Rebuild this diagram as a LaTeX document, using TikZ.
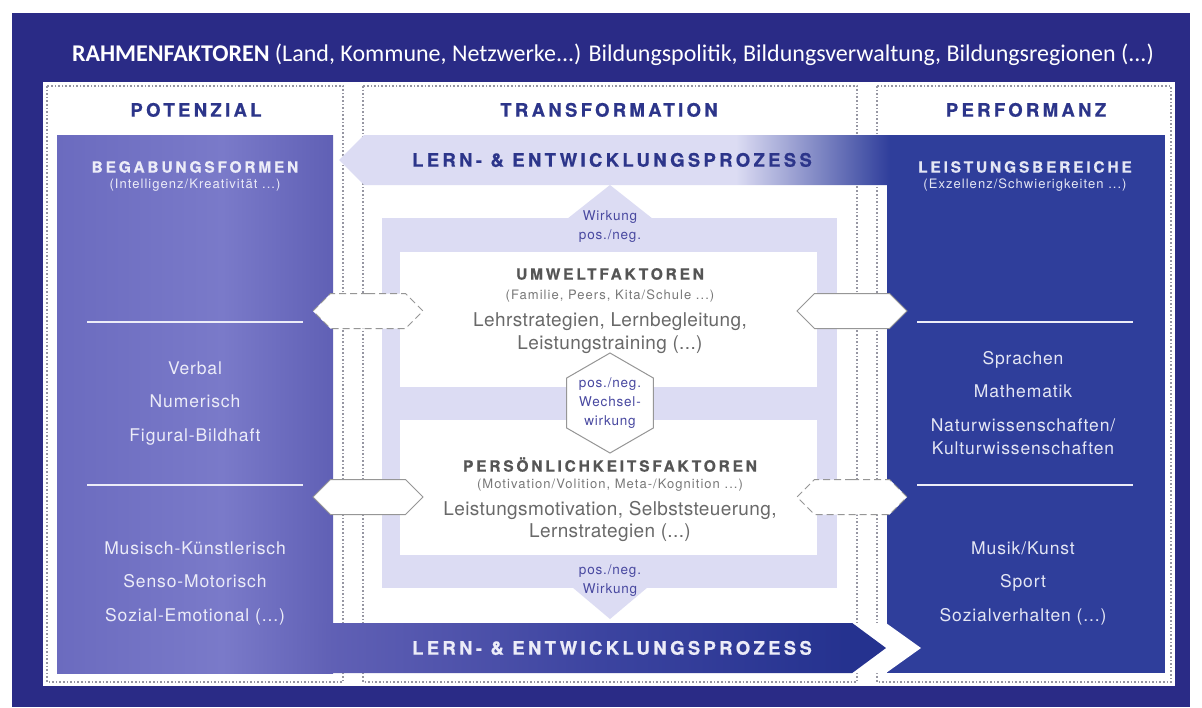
\documentclass[tikz,border=0pt]{standalone}
\usepackage{fontspec}
\setmainfont{TeX Gyre Heros}
\newfontfamily\rahmenfont{Carlito}
\usepackage{tikz}
\usetikzlibrary{arrows,positioning,shapes.geometric,shapes.symbols}

% colours
\definecolor{navy}{RGB}{42,43,134}
\definecolor{perfblue}{RGB}{47,62,155}
\definecolor{potleft}{RGB}{107,107,191}
\definecolor{potlight}{RGB}{122,122,201}
\definecolor{potright}{RGB}{96,96,181}
\definecolor{prozmid}{RGB}{60,68,160}
\definecolor{prozend}{RGB}{37,50,143}
\definecolor{lav}{RGB}{220,220,243}
\definecolor{dotgrey}{RGB}{150,150,162}
\definecolor{congrey}{RGB}{150,150,150}
\definecolor{headblue}{RGB}{44,53,138}
\definecolor{wirkblue}{RGB}{72,72,160}
\definecolor{boxgrey}{RGB}{85,85,85}
\definecolor{subgrey}{RGB}{120,120,120}
\definecolor{textgrey}{RGB}{105,105,105}
\definecolor{potext}{RGB}{236,236,248}
\definecolor{perftext}{RGB}{228,230,244}

%shadings for the boxes and the process arrows
\pgfdeclarehorizontalshading{potshade}{100bp}{color(0bp)=(potleft); color(25bp)=(potleft); color(55bp)=(potlight); color(75bp)=(potright); color(100bp)=(potright)}
\pgfdeclarehorizontalshading{prozessback}{100bp}{color(0bp)=(lav); color(61bp)=(lav); color(75bp)=(perfblue); color(100bp)=(perfblue)}
\pgfdeclarehorizontalshading{prozessforward}{100bp}{color(0bp)=(potleft); color(25bp)=(potleft); color(35bp)=(potlight); color(41.6bp)=(potright); color(57.7bp)=(prozmid); color(72.6bp)=(prozend); color(100bp)=(prozend)}

\tikzset{
    %Define standard arrow tip
    >=stealth',
    %Define style for the dotted column frames
    column/.style={
           draw=dotgrey,
           dotted,
           line width=1.6pt},
    %Define styles for texts
    rahmen/.style={
           font=\rahmenfont\fontsize{24}{28}\selectfont,
           text=white},
    coltitle/.style={
           font=\fontsize{18.5}{22}\selectfont\bfseries\addfontfeature{LetterSpace=18,FakeBold=0.7},
           text=headblue,
           text height=13.3pt,
           text depth=0pt},
    prozesstext/.style={
           font=\fontsize{18.5}{22}\selectfont\bfseries\addfontfeature{LetterSpace=18,FakeBold=0.7},
           text height=13.3pt,
           text depth=0pt},
    boxtitle/.style={
           font=\fontsize{15.5}{18}\selectfont\bfseries\addfontfeature{LetterSpace=18,FakeBold=0.6},
           text height=11.2pt,
           text depth=0pt},
    boxsub/.style={
           font=\fontsize{13}{15}\selectfont\addfontfeature{LetterSpace=8},
           text height=9.4pt,
           text depth=3pt},
    item/.style={
           font=\fontsize{17.5}{33.5}\selectfont\addfontfeature{LetterSpace=5},
           align=center},
    factortext/.style={
           font=\fontsize{19}{22.5}\selectfont\addfontfeature{LetterSpace=2},
           align=center,
           text=textgrey},
    wirkung/.style={
           font=\fontsize{13.5}{19}\selectfont\addfontfeature{LetterSpace=6},
           align=center,
           text=wirkblue},
    %Define styles for boxes
    potbox/.style={
           rectangle,
           shade, shading=potshade,
           minimum width=276pt,
           minimum height=538pt},
    perfbox/.style={
           rectangle,
           fill=perfblue,
           minimum width=278pt,
           minimum height=538pt},
    factorbox/.style={
           rectangle,
           fill=white,
           minimum width=417pt,
           minimum height=135pt},
    prozess/.style={
           signal,
           minimum height=50pt},
    %Define style for connectors
    verbindung/.style={
           signal,
           signal to=west and east,
           signal pointer angle=90,
           fill=white,
           draw=congrey, line width=1pt,
           minimum width=110pt,
           minimum height=35pt},
    wechsel/.style={
           regular polygon,
           regular polygon sides=6,
           regular polygon rotate=30,
           fill=white,
           draw=congrey, line width=1pt,
           minimum size=100pt},
    divider/.style={
           draw=potext,
           line width=1.2pt}
}

\begin{document}
\begin{tikzpicture}[x=1pt,y=-1pt,every node/.append style={inner sep=0pt,outer sep=0pt}]
\useasboundingbox (0,0) rectangle (1202,707);
 %frame
\fill[white] (0,0) rectangle (1202,707);
\fill[navy] (12,13) rectangle (1190,707);
\fill[white] (43,82) rectangle (1175,686);
\node[rahmen] (rahmen) at (613,55) {\textbf{RAHMENFAKTOREN} (Land, Kommune, Netzwerke...) Bildungspolitik, Bildungsverwaltung, Bildungsregionen (...)};
 %columns
\draw[column] (47,86) rectangle (343,682);
\draw[column] (363,86) rectangle (857,682);
\draw[column] (877,86) rectangle (1171,682);
\node[coltitle] (pottitle) at (196,110) {POTENZIAL};
\node[coltitle] (transtitle) at (609,110) {TRANSFORMATION};
\node[coltitle] (perftitle) at (1026,110) {PERFORMANZ};
 %boxes
\node[potbox] (potenzial) at (195,404) {};
\node[perfbox] (performanz) at (1026,404) {};
 %loop of the transformation
\fill[lav] (382,218) rectangle (837,588);
\fill[lav] (567,219) -- (610,185) -- (653,219) -- cycle;
\fill[lav] (572,587) -- (610,619) -- (648,587) -- cycle;
 %process arrows
\node[prozess, signal to=west, signal pointer angle=90, shade, shading=prozessback,
  minimum width=551pt, anchor=east] (lernback) at (890,160) {};
\node[prozesstext, text=headblue] (lernbacktext) at (612,160) {LERN- \& ENTWICKLUNGSPROZESS};
\fill[white] (850,623) -- (886,623) -- (921,648) -- (886,673) -- (850,673) -- cycle;
\node[prozess, signal to=east, signal pointer angle=73, shade, shading=prozessforward,
  minimum width=829pt, anchor=west] (lernfwd) at (57,648) {};
\node[prozesstext, text=potext] (lernfwdtext) at (612,648) {LERN- \& ENTWICKLUNGSPROZESS};
 %factors
\node[factorbox] (umwelt) at (608.5,319.5) {};
\node[factorbox] (person) at (608.5,487.5) {};
\node[boxtitle, text=boxgrey] (umwelttitle) at (610,274) {UMWELTFAKTOREN};
\node[boxsub, text=subgrey] (umweltsub) at (610,296) {(Familie, Peers, Kita/Schule ...)};
\node[factortext] (umwelttext) at (610,333) {Lehrstrategien, Lernbegleitung,\\Leistungstraining (...)};
\node[boxtitle, text=boxgrey] (persontitle) at (610,466) {PERSÖNLICHKEITSFAKTOREN};
\node[boxsub, text=subgrey] (personsub) at (610,485) {(Motivation/Volition, Meta-/Kognition ...)};
\node[factortext] (persontext) at (610,521.5) {Leistungsmotivation, Selbststeuerung,\\Lernstrategien (...)};
\node[wirkung] (wirkungoben) at (610,227) {Wirkung\\pos./neg.};
\node[wirkung] (wirkungunten) at (610,581) {pos./neg.\\Wirkung};
 %connectors
\node[verbindung, dash pattern=on 7pt off 4pt] (potumwelt) at (368,311) {};
\node[verbindung] (potperson) at (368,497) {};
\node[verbindung] (umweltperf) at (852,311) {};
\node[verbindung, dash pattern=on 7pt off 4pt] (personperf) at (852,497) {};
\node[wechsel] (wechsel) at (610,403) {};
\node[wirkung] (wechseltext) at (wechsel.center) {pos./neg.\\Wechsel-\\wirkung};
 %potential
\node[boxtitle, text=potext] (begabung) at (195,167) {BEGABUNGSFORMEN};
\node[boxsub, text=potext] (begabungsub) at (195,185) {(Intelligenz/Kreativität ...)};
\draw[divider] (87,322) -- (303,322);
\draw[divider] (87,485) -- (303,485);
\node[item, text=potext] (kognitiv) at (195,403.5) {Verbal\\Numerisch\\Figural-Bildhaft};
\node[item, text=potext] (musisch) at (195,583) {Musisch-Künstlerisch\\Senso-Motorisch\\Sozial-Emotional (...)};
 %performance
\node[boxtitle, text=perftext] (leistung) at (1025,167) {LEISTUNGSBEREICHE};
\node[boxsub, text=perftext] (leistungsub) at (1025,185) {(Exzellenz/Schwierigkeiten ...)};
\draw[divider] (917,322) -- (1133,322);
\draw[divider] (917,485) -- (1133,485);
\node[item, text=perftext] (faecher) at (1023,403) {Sprachen\\Mathematik\\Naturwissenschaften/\\[-10.5pt]Kulturwissenschaften};
\node[item, text=perftext] (musik) at (1023,583) {Musik/Kunst\\Sport\\Sozialverhalten (...)};
\end{tikzpicture}
\end{document}
